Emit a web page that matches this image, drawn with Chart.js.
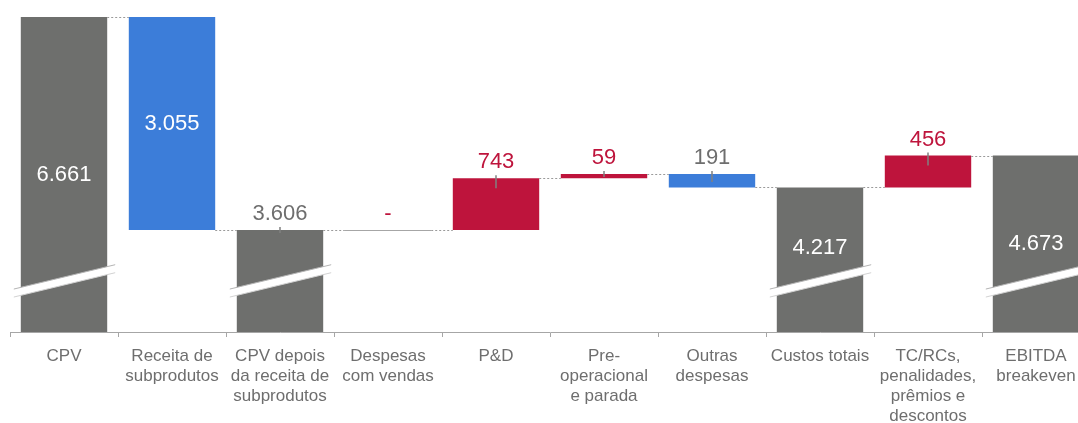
<!DOCTYPE html>
<html>
<head>
<meta charset="utf-8">
<script src="https://cdn.jsdelivr.net/npm/chart.js@4"></script>
<style>
  html, body { margin: 0; padding: 0; background: #fff; overflow: hidden; }
  #wrap { width: 1078px; height: 423px; overflow: hidden; }
</style>
</head>
<body>
<div id="wrap"><canvas id="waterfall" width="1090" height="423"></canvas></div>
<script>
const categories = [
    ['CPV'],
    ['Receita de', 'subprodutos'],
    ['CPV depois', 'da receita de', 'subprodutos'],
    ['Despesas', 'com vendas'],
    ['P&D'],
    ['Pre-', 'operacional', 'e parada'],
    ['Outras', 'despesas'],
    ['Custos totais'],
    ['TC/RCs,', 'penalidades,', 'prêmios e', 'descontos'],
    ['EBITDA', 'breakeven']
];
const values = [6661, 3055, 3606, 0, 743, 59, 191, 4217, 456, 4673];
const kinds = ['total', 'down', 'total', 'up', 'up', 'up', 'down', 'total', 'up', 'total'];
const valueLabels = ['6.661', '3.055', '3.606', '-', '743', '59', '191', '4.217', '456', '4.673'];
const axisRange = [2143, 6661];

const colors = { total: '#6e6f6d', down: '#3c7dd9', up: '#be143c' };
const textGray = '#6e6e6e';
const FONT = "'Liberation Sans', Arial, sans-serif";

// build floating bars + running levels
let running = 0;
const bars = [];
const levels = [];
values.forEach((v, i) => {
    if (kinds[i] === 'total') {
        bars.push([axisRange[0], v]);
        running = v;
    } else if (kinds[i] === 'up') {
        bars.push([running, running + v]);
        running += v;
    } else {
        bars.push([running - v, running]);
        running -= v;
    }
    levels.push(running);
});

const waterfallDecor = {
    id: 'waterfallDecor',
    afterDatasetsDraw(chart) {
        const ctx = chart.ctx;
        const area = chart.chartArea;
        const els = chart.getDatasetMeta(0).data;
        const yScale = chart.scales.y;

        ctx.save();
        // connectors
        ctx.strokeStyle = '#9a9a9a';
        ctx.lineWidth = 1;
        ctx.setLineDash([2, 2]);
        for (let i = 0; i < els.length - 1; i++) {
            const y = Math.round(yScale.getPixelForValue(levels[i])) + 0.5;
            const a = els[i], b = els[i + 1];
            ctx.beginPath();
            ctx.moveTo(a.x + a.width / 2, y);
            ctx.lineTo(b.x - b.width / 2, y);
            ctx.stroke();
        }
        ctx.setLineDash([]);

        // zero-height bars as a flat line
        els.forEach((el, i) => {
            if (values[i] === 0) {
                const y = Math.round(el.y) + 0.5;
                ctx.strokeStyle = '#a6a6a6';
                ctx.beginPath();
                ctx.moveTo(el.x - el.width / 2, y);
                ctx.lineTo(el.x + el.width / 2, y);
                ctx.stroke();
            }
        });

        // axis breaks on total bars
        els.forEach((el, i) => {
            if (kinds[i] !== 'total') return;
            const cy = area.bottom - 51;
            const x0 = el.x - el.width / 2 - 7;
            const x1 = el.x + el.width / 2 + 8;
            const slope = -0.24;
            const y0 = cy + slope * (x0 - el.x);
            const y1 = cy + slope * (x1 - el.x);
            const h = 4;
            ctx.beginPath();
            ctx.moveTo(x0, y0 - h);
            ctx.lineTo(x1, y1 - h);
            ctx.lineTo(x1, y1 + h);
            ctx.lineTo(x0, y0 + h);
            ctx.closePath();
            ctx.fillStyle = '#ffffff';
            ctx.fill();
            ctx.strokeStyle = '#b4b4b4';
            ctx.beginPath();
            ctx.moveTo(x0, y0 - h);
            ctx.lineTo(x1, y1 - h);
            ctx.stroke();
            ctx.strokeStyle = '#d2d2d2';
            ctx.beginPath();
            ctx.moveTo(x0, y0 + h);
            ctx.lineTo(x1, y1 + h);
            ctx.stroke();
        });

        // value labels
        ctx.font = '22px ' + FONT;
        ctx.textAlign = 'center';
        ctx.textBaseline = 'middle';
        els.forEach((el, i) => {
            const top = Math.min(el.y, el.base);
            const bottom = Math.max(el.y, el.base);
            const h = bottom - top;
            if (h > 120) {
                const mid = Math.min((top + bottom) / 2, area.bottom - 84);
                ctx.fillStyle = '#ffffff';
                ctx.fillText(valueLabels[i], el.x, mid);
            } else {
                if (values[i] !== 0) {
                    const stub = kinds[i] === 'total' ? 3 : Math.min(10, Math.max(3, h * 0.6));
                    ctx.strokeStyle = '#808080';
                    ctx.lineWidth = 1.5;
                    ctx.beginPath();
                    ctx.moveTo(el.x, top - 3);
                    ctx.lineTo(el.x, top + stub);
                    ctx.stroke();
                }
                ctx.fillStyle = kinds[i] === 'up' ? colors.up : textGray;
                ctx.fillText(valueLabels[i], el.x, top - 16);
            }
        });
        ctx.restore();
    }
};

new Chart(document.getElementById('waterfall'), {
    type: 'bar',
    data: {
        labels: categories,
        datasets: [{
            data: bars,
            backgroundColor: kinds.map(k => colors[k]),
            borderWidth: 0,
            categoryPercentage: 1,
            barPercentage: 0.8
        }]
    },
    options: {
        responsive: false,
        animation: false,
        devicePixelRatio: 1,
        layout: { padding: { left: 10, top: 17, right: 0, bottom: 0 } },
        plugins: { legend: { display: false }, tooltip: { enabled: false } },
        scales: {
            x: {
                grid: { drawOnChartArea: false, drawTicks: true, tickLength: 5, color: '#a6a6a6', offset: true },
                border: { display: true, color: '#a6a6a6' },
                ticks: {
                    color: textGray,
                    font: { family: FONT, size: 17, lineHeight: 1.18 },
                    padding: 9,
                    maxRotation: 0,
                    autoSkip: false
                },
                afterFit(scale) { scale.height = 91; }
            },
            y: {
                display: false,
                min: axisRange[0],
                max: axisRange[1]
            }
        }
    },
    plugins: [waterfallDecor]
});
</script>
</body>
</html>
